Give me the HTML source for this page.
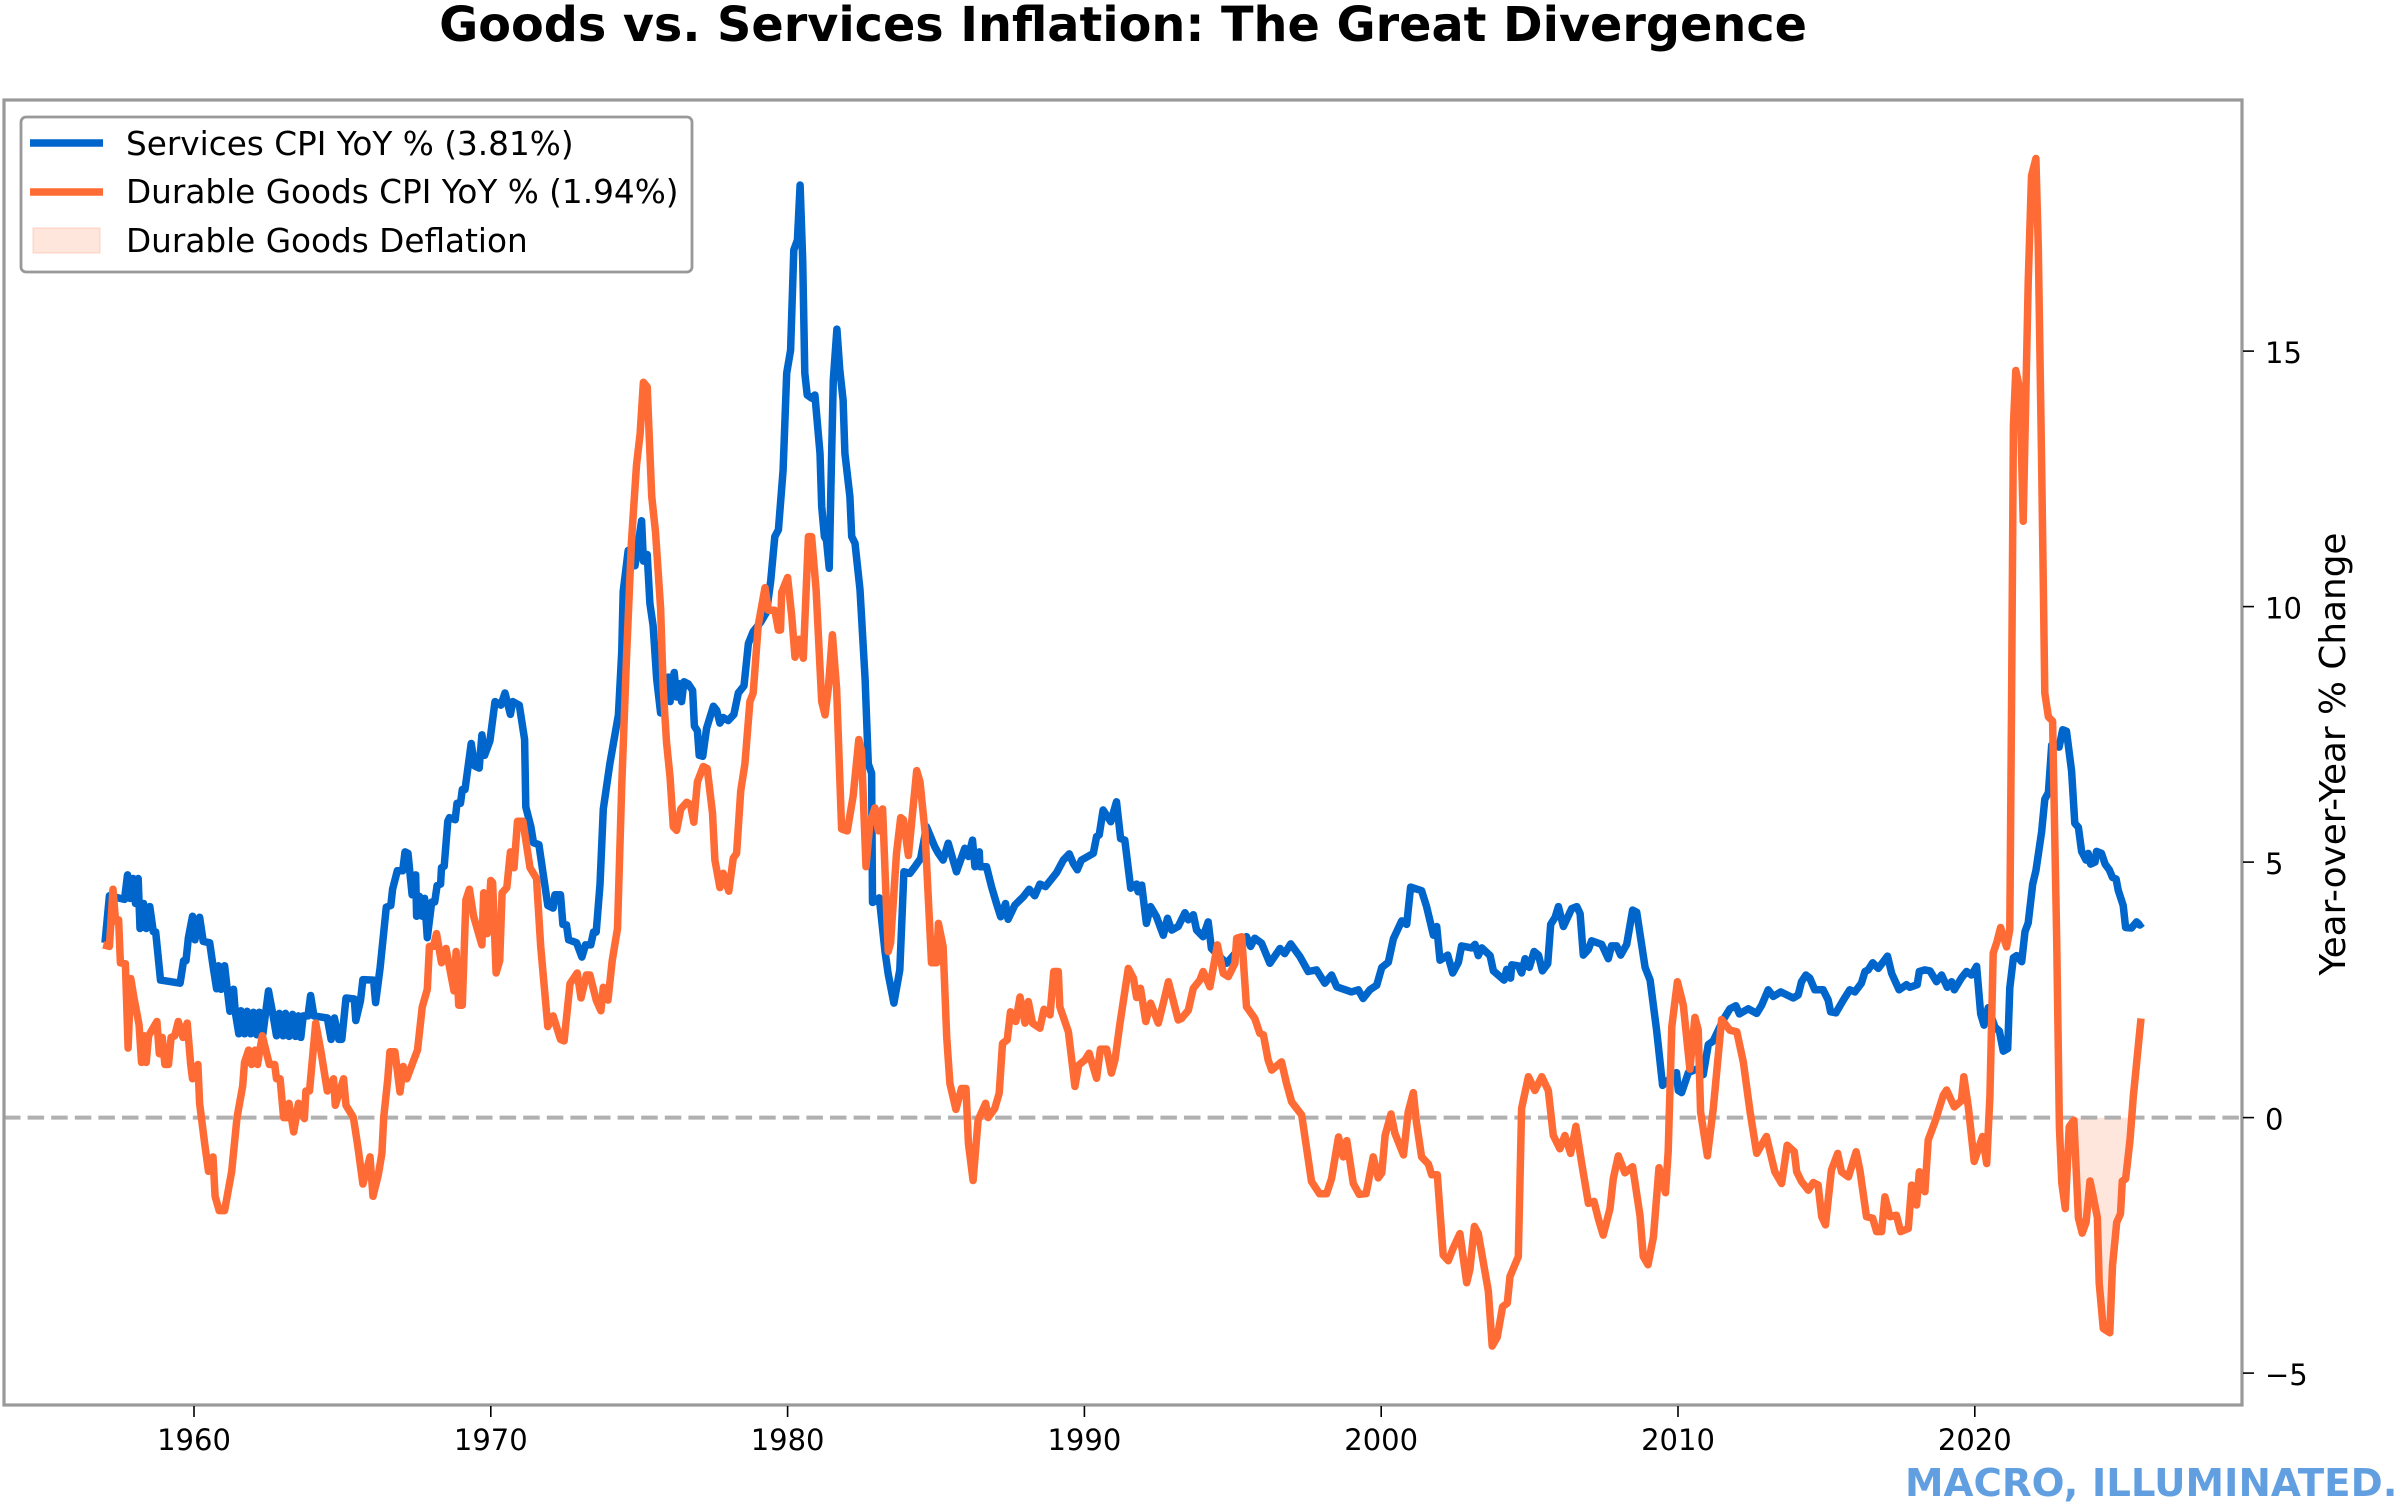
<!DOCTYPE html>
<html lang="en">
<head>
<meta charset="utf-8">
<title>Goods vs. Services Inflation: The Great Divergence</title>
<style>
html,body{margin:0;padding:0;background:#fff;}
svg{display:block;}
text{font-family:"DejaVu Sans","Liberation Sans",sans-serif;fill:#000;}
</style>
</head>
<body>
<svg id="chart" xmlns="http://www.w3.org/2000/svg" width="2400" height="1507" viewBox="0 0 2400 1507">
  <defs><clipPath id="plot-clip"><rect x="4" y="100" width="2238" height="1305"/></clipPath></defs>
  <rect x="0" y="0" width="2400" height="1507" fill="#fff"/>
  <text x="1123" y="41" text-anchor="middle" font-size="47.7" font-weight="700">Goods vs. Services Inflation: The Great Divergence</text>
  <g id="plot" clip-path="url(#plot-clip)"></g>
  <rect x="4" y="100" width="2238" height="1305" fill="none" stroke="#999" stroke-width="3.2"/>
  <g id="xaxis"></g>
  <g id="yaxis"></g>
  <text transform="translate(2345 754) rotate(-90)" text-anchor="middle" font-size="35.8">Year-over-Year % Change</text>
  <g>
    <rect x="21" y="117" width="671" height="155" rx="5" ry="5" fill="#fff" fill-opacity="0.9" stroke="#999" stroke-width="2.8"/>
    <line x1="30" x2="103" y1="143" y2="143" stroke="#0066CC" stroke-width="7.5"/>
    <text x="126" y="155" font-size="32.7">Services CPI YoY % (3.81%)</text>
    <line x1="30" x2="103" y1="192" y2="192" stroke="#FF6B35" stroke-width="7.5"/>
    <text x="126" y="203" font-size="32.7">Durable Goods CPI YoY % (1.94%)</text>
    <rect x="33" y="228" width="67" height="25" fill="#FF6B35" fill-opacity="0.17" stroke="#FF6B35" stroke-opacity="0.17" stroke-width="1.5"/>
    <text x="126" y="252" font-size="32.7">Durable Goods Deflation</text>
  </g>
  <text x="1905" y="1496" font-size="38.7" font-weight="700" style="fill:#619fe0">MACRO, ILLUMINATED.</text>
</svg>
<script>
const xTickYears = [1960, 1970, 1980, 1990, 2000, 2010, 2020];
const yTickValues = [-5, 0, 5, 10, 15];
const yTickLabels = ["\u22125", "0", "5", "10", "15"];
const zeroLineValue = [0];
const deflationWindow = [2023.3, 2025.3];

const servicesYears = [1957.00,1957.15,1957.66,1957.76,1957.84,1957.94,1958.03,1958.12,1958.18,1958.30,1958.39,1958.51,1958.63,1958.71,1958.87,1959.53,1959.65,1959.73,1959.81,1959.95,1960.03,1960.19,1960.31,1960.53,1960.64,1960.76,1960.83,1960.91,1961.03,1961.12,1961.21,1961.33,1961.39,1961.51,1961.58,1961.70,1961.79,1961.91,1962.00,1962.12,1962.20,1962.32,1962.51,1962.66,1962.78,1962.87,1963.00,1963.08,1963.20,1963.32,1963.42,1963.52,1963.60,1963.68,1963.84,1963.93,1964.04,1964.49,1964.62,1964.73,1964.88,1964.98,1965.12,1965.40,1965.45,1965.61,1965.69,1966.05,1966.12,1966.27,1966.48,1966.63,1966.69,1966.85,1967.03,1967.11,1967.21,1967.35,1967.47,1967.50,1967.59,1967.69,1967.77,1967.86,1968.01,1968.11,1968.19,1968.31,1968.34,1968.43,1968.55,1968.61,1968.80,1968.86,1968.98,1969.04,1969.13,1969.34,1969.46,1969.61,1969.70,1969.79,1969.97,1970.14,1970.34,1970.48,1970.66,1970.74,1970.96,1971.14,1971.18,1971.35,1971.44,1971.62,1971.92,1972.10,1972.16,1972.35,1972.43,1972.55,1972.62,1972.89,1973.07,1973.19,1973.37,1973.46,1973.55,1973.68,1973.79,1974.01,1974.30,1974.41,1974.46,1974.63,1974.86,1975.08,1975.14,1975.27,1975.36,1975.47,1975.59,1975.72,1975.98,1976.04,1976.18,1976.26,1976.35,1976.43,1976.51,1976.65,1976.80,1976.86,1976.96,1977.02,1977.14,1977.27,1977.50,1977.61,1977.72,1977.83,1978.00,1978.19,1978.34,1978.53,1978.68,1978.84,1979.10,1979.29,1979.43,1979.57,1979.69,1979.85,1979.97,1980.10,1980.21,1980.33,1980.42,1980.51,1980.58,1980.66,1980.81,1980.92,1981.09,1981.15,1981.24,1981.31,1981.40,1981.48,1981.54,1981.66,1981.76,1981.87,1981.93,1982.10,1982.16,1982.27,1982.44,1982.61,1982.72,1982.83,1982.86,1983.09,1983.28,1983.39,1983.58,1983.78,1983.92,1984.12,1984.29,1984.48,1984.68,1984.96,1985.08,1985.24,1985.41,1985.69,1985.97,1986.09,1986.23,1986.31,1986.46,1986.48,1986.70,1986.87,1987.04,1987.18,1987.34,1987.43,1987.66,1987.94,1988.14,1988.33,1988.50,1988.69,1989.06,1989.29,1989.49,1989.62,1989.76,1989.90,1990.30,1990.41,1990.50,1990.63,1990.89,1991.08,1991.22,1991.36,1991.56,1991.76,1991.81,1991.93,1992.09,1992.23,1992.43,1992.66,1992.80,1992.94,1993.16,1993.39,1993.50,1993.67,1993.78,1994.00,1994.17,1994.28,1994.79,1995.18,1995.46,1995.60,1995.74,1995.97,1996.25,1996.59,1996.75,1996.95,1997.26,1997.54,1997.82,1998.10,1998.33,1998.50,1999.00,1999.23,1999.39,1999.62,1999.85,2000.02,2000.24,2000.41,2000.69,2000.86,2000.99,2001.36,2001.53,2001.76,2001.87,2001.98,2002.24,2002.41,2002.60,2002.71,2003.05,2003.16,2003.27,2003.39,2003.67,2003.78,2004.14,2004.23,2004.36,2004.40,2004.62,2004.73,2004.85,2004.99,2005.15,2005.30,2005.43,2005.61,2005.71,2005.86,2005.97,2006.14,2006.42,2006.59,2006.70,2006.81,2006.98,2007.09,2007.43,2007.65,2007.76,2007.93,2008.07,2008.27,2008.47,2008.61,2008.89,2009.06,2009.28,2009.48,2009.95,2010.01,2010.12,2010.35,2010.63,2010.85,2011.02,2011.19,2011.53,2011.75,2011.95,2012.07,2012.37,2012.65,2012.82,2013.04,2013.21,2013.46,2013.88,2014.05,2014.16,2014.31,2014.44,2014.61,2014.89,2015.06,2015.14,2015.32,2015.57,2015.79,2015.96,2016.18,2016.30,2016.41,2016.56,2016.75,2017.06,2017.20,2017.45,2017.70,2017.81,2018.06,2018.13,2018.32,2018.49,2018.71,2018.88,2019.07,2019.22,2019.31,2019.55,2019.72,2019.89,2020.06,2020.20,2020.31,2020.45,2020.68,2020.83,2020.96,2021.11,2021.18,2021.30,2021.41,2021.58,2021.69,2021.80,2021.95,2022.06,2022.25,2022.36,2022.48,2022.59,2022.84,2022.96,2023.09,2023.26,2023.37,2023.49,2023.60,2023.75,2023.82,2023.90,2024.05,2024.10,2024.27,2024.39,2024.53,2024.64,2024.76,2024.83,2025.00,2025.08,2025.28,2025.45,2025.56,2025.65];
const servicesValues = [3.42,4.34,4.27,4.75,4.29,4.68,4.19,4.68,3.70,4.19,3.70,4.13,3.64,3.63,2.69,2.63,3.07,3.07,3.52,3.94,3.48,3.92,3.45,3.42,2.97,2.52,2.97,2.51,2.97,2.52,2.08,2.51,2.06,1.64,2.09,1.64,2.08,1.64,2.06,1.62,2.06,1.64,2.48,2.02,1.60,2.04,1.60,2.04,1.59,2.02,1.59,1.99,1.57,1.99,1.99,2.39,1.99,1.95,1.53,1.95,1.53,1.53,2.34,2.32,1.90,2.29,2.70,2.69,2.25,2.93,4.12,4.15,4.47,4.83,4.83,5.20,5.17,4.36,4.75,3.94,4.33,3.94,4.29,3.52,4.22,4.22,4.54,4.57,4.89,4.92,5.80,5.87,5.83,6.15,6.15,6.42,6.42,7.32,6.88,6.84,7.49,7.09,7.37,8.14,8.07,8.31,7.89,8.14,8.07,7.40,6.08,5.69,5.38,5.34,4.15,4.10,4.36,4.36,3.78,3.77,3.48,3.42,3.14,3.38,3.38,3.63,3.63,4.56,6.04,6.92,7.88,9.10,10.30,11.10,10.80,11.68,10.89,11.02,10.06,9.63,8.58,7.92,8.62,8.14,8.71,8.23,8.49,8.14,8.53,8.49,8.36,7.66,7.57,7.09,7.07,7.62,8.05,7.97,7.72,7.83,7.77,7.89,8.31,8.45,9.28,9.51,9.70,9.89,10.50,11.37,11.50,12.67,14.57,15.02,16.98,17.17,18.25,16.78,14.57,14.14,14.08,14.14,13.00,11.96,11.37,11.30,10.75,12.87,14.43,15.43,14.63,14.04,13.00,12.15,11.37,11.24,10.33,8.58,6.92,6.74,4.21,4.30,3.25,2.81,2.24,2.89,4.81,4.78,4.91,5.07,5.69,5.30,5.17,5.04,5.37,4.81,5.27,5.11,5.43,4.91,5.20,4.91,4.91,4.52,4.19,3.93,4.19,3.88,4.16,4.32,4.47,4.34,4.57,4.52,4.79,5.04,5.16,4.98,4.85,5.04,5.17,5.50,5.53,6.02,5.79,6.18,5.46,5.43,4.49,4.57,4.42,4.55,3.80,4.13,3.93,3.57,3.90,3.67,3.74,4.01,3.87,3.97,3.67,3.54,3.83,3.31,3.02,3.28,3.54,3.35,3.51,3.41,3.02,3.31,3.21,3.40,3.15,2.86,2.89,2.63,2.79,2.56,2.46,2.50,2.33,2.50,2.59,2.94,3.04,3.50,3.85,3.78,4.51,4.44,4.13,3.57,3.74,3.08,3.18,2.83,3.04,3.36,3.32,3.39,3.17,3.32,3.17,2.87,2.69,2.90,2.73,2.99,2.97,2.83,3.11,2.94,3.25,3.18,2.87,3.01,3.78,3.92,4.13,3.74,4.09,4.13,3.99,3.18,3.29,3.46,3.39,3.11,3.36,3.36,3.18,3.39,4.06,4.02,2.94,2.69,1.71,0.63,0.88,0.53,0.49,0.88,0.95,0.84,1.43,1.50,1.92,2.13,2.19,2.03,2.13,2.04,2.20,2.50,2.37,2.46,2.34,2.40,2.66,2.79,2.73,2.50,2.50,2.30,2.07,2.05,2.30,2.50,2.46,2.63,2.86,2.89,3.03,2.92,3.16,2.82,2.50,2.60,2.55,2.60,2.86,2.89,2.87,2.66,2.79,2.55,2.66,2.50,2.73,2.86,2.79,2.96,2.03,1.81,2.15,1.77,1.69,1.30,1.35,2.54,3.13,3.17,3.05,3.64,3.81,4.57,4.83,5.59,6.23,6.36,7.29,7.25,7.59,7.56,6.78,5.76,5.68,5.21,5.04,5.17,4.96,5.00,5.21,5.17,4.96,4.85,4.70,4.67,4.45,4.15,3.72,3.71,3.83,3.77,3.81];

const goodsYears = [1956.94,1957.15,1957.27,1957.36,1957.46,1957.52,1957.69,1957.78,1957.87,1957.97,1958.15,1958.23,1958.33,1958.39,1958.47,1958.75,1958.83,1958.93,1959.02,1959.14,1959.23,1959.35,1959.47,1959.63,1959.77,1959.89,1959.95,1960.13,1960.19,1960.37,1960.49,1960.64,1960.71,1960.85,1961.03,1961.27,1961.45,1961.64,1961.70,1961.84,1961.94,1962.06,1962.14,1962.30,1962.54,1962.72,1962.78,1962.90,1963.02,1963.14,1963.20,1963.36,1963.52,1963.72,1963.77,1963.89,1964.10,1964.28,1964.49,1964.70,1964.76,1965.04,1965.12,1965.37,1965.52,1965.69,1965.93,1966.03,1966.21,1966.33,1966.39,1966.53,1966.60,1966.77,1966.94,1967.05,1967.17,1967.35,1967.53,1967.69,1967.86,1967.93,1968.07,1968.17,1968.34,1968.49,1968.76,1968.83,1968.92,1969.04,1969.16,1969.28,1969.42,1969.70,1969.76,1969.88,1970.00,1970.06,1970.18,1970.30,1970.38,1970.54,1970.66,1970.78,1970.90,1971.08,1971.32,1971.54,1971.68,1971.92,1972.10,1972.35,1972.47,1972.67,1972.91,1973.04,1973.22,1973.34,1973.55,1973.71,1973.79,1973.95,1974.09,1974.27,1974.41,1974.58,1974.74,1974.91,1975.03,1975.14,1975.27,1975.42,1975.55,1975.72,1975.81,1975.92,1976.04,1976.15,1976.26,1976.40,1976.60,1976.73,1976.84,1976.96,1977.16,1977.29,1977.47,1977.55,1977.72,1977.83,1978.02,1978.17,1978.28,1978.42,1978.56,1978.73,1978.84,1979.01,1979.24,1979.35,1979.57,1979.69,1979.76,1979.80,1980.00,1980.14,1980.25,1980.39,1980.53,1980.70,1980.81,1980.96,1981.15,1981.26,1981.37,1981.51,1981.65,1981.82,1982.01,1982.21,1982.40,1982.49,1982.64,1982.77,1982.94,1983.06,1983.20,1983.39,1983.47,1983.67,1983.81,1983.90,1984.07,1984.35,1984.46,1984.63,1984.85,1985.02,1985.08,1985.24,1985.36,1985.47,1985.67,1985.86,1986.01,1986.09,1986.25,1986.42,1986.67,1986.76,1986.98,1987.13,1987.24,1987.40,1987.51,1987.69,1987.83,1988.00,1988.11,1988.25,1988.50,1988.64,1988.84,1988.97,1989.12,1989.17,1989.46,1989.68,1989.81,1990.02,1990.16,1990.41,1990.54,1990.75,1990.91,1991.03,1991.20,1991.48,1991.65,1991.76,1991.89,1992.07,1992.23,1992.49,1992.66,1992.83,1993.16,1993.27,1993.50,1993.67,1993.89,1994.00,1994.23,1994.48,1994.68,1994.85,1995.07,1995.13,1995.30,1995.46,1995.74,1995.91,1996.03,1996.19,1996.31,1996.64,1996.81,1996.98,1997.32,1997.65,1997.92,1998.16,1998.33,1998.56,1998.72,1998.84,1999.06,1999.26,1999.49,1999.73,1999.90,2000.02,2000.13,2000.33,2000.46,2000.75,2000.91,2001.08,2001.19,2001.36,2001.59,2001.70,2001.89,2002.09,2002.26,2002.43,2002.65,2002.88,2002.99,2003.14,2003.27,2003.44,2003.61,2003.74,2003.91,2004.09,2004.25,2004.34,2004.62,2004.73,2004.96,2005.18,2005.41,2005.63,2005.80,2006.02,2006.19,2006.38,2006.56,2006.75,2006.98,2007.17,2007.32,2007.48,2007.71,2007.82,2007.99,2008.21,2008.47,2008.72,2008.83,2008.99,2009.17,2009.36,2009.58,2009.67,2009.79,2009.98,2010.18,2010.40,2010.57,2010.68,2010.76,2010.99,2011.19,2011.47,2011.75,2011.98,2012.20,2012.43,2012.65,2012.98,2013.26,2013.49,2013.68,2013.92,2014.00,2014.16,2014.39,2014.56,2014.72,2014.84,2014.97,2015.17,2015.38,2015.51,2015.74,2016.00,2016.13,2016.35,2016.56,2016.69,2016.86,2016.97,2017.14,2017.36,2017.50,2017.76,2017.87,2018.04,2018.13,2018.32,2018.43,2018.66,2018.94,2019.05,2019.31,2019.55,2019.63,2019.78,2019.98,2020.26,2020.40,2020.51,2020.62,2020.74,2020.87,2021.07,2021.18,2021.24,2021.30,2021.38,2021.52,2021.63,2021.80,2021.91,2022.06,2022.14,2022.25,2022.36,2022.48,2022.62,2022.76,2022.85,2022.93,2023.05,2023.18,2023.34,2023.49,2023.62,2023.75,2023.88,2023.99,2024.13,2024.19,2024.33,2024.55,2024.64,2024.78,2024.91,2024.97,2025.08,2025.23,2025.34,2025.60];
const goodsValues = [3.38,3.35,4.47,3.84,3.87,3.03,3.01,1.36,2.72,2.37,1.81,1.08,1.60,1.08,1.60,1.88,1.25,1.57,1.04,1.04,1.57,1.60,1.88,1.57,1.85,1.04,0.76,1.04,0.28,-0.56,-1.05,-0.77,-1.54,-1.82,-1.82,-1.05,0.00,0.62,1.08,1.32,1.04,1.32,1.04,1.60,1.04,1.04,0.76,0.76,0.00,0.00,0.28,-0.28,0.28,-0.02,0.52,0.52,1.85,1.29,0.52,0.76,0.24,0.76,0.24,0.00,-0.56,-1.30,-0.77,-1.54,-1.12,-0.70,0.00,0.76,1.29,1.29,0.50,1.00,0.76,1.04,1.32,2.16,2.51,3.35,3.35,3.60,3.03,3.31,2.48,3.25,2.20,2.20,4.26,4.47,3.94,3.38,4.40,3.60,4.64,4.60,2.83,3.07,4.40,4.50,5.20,4.89,5.80,5.80,4.89,4.68,3.35,1.78,1.99,1.53,1.50,2.62,2.83,2.34,2.79,2.79,2.30,2.09,2.55,2.30,3.07,3.70,6.48,9.10,11.29,12.77,13.38,14.39,14.30,12.16,11.46,9.97,8.40,7.35,6.65,5.69,5.62,6.04,6.17,6.13,5.78,6.57,6.87,6.83,5.96,5.04,4.50,4.78,4.43,5.08,5.17,6.39,6.92,8.14,8.31,9.63,10.37,9.93,9.93,9.54,9.54,10.28,10.57,9.80,9.01,9.36,8.99,11.37,11.37,10.33,8.14,7.88,8.40,9.45,8.40,5.65,5.61,6.30,7.40,7.18,4.91,5.74,6.06,5.61,6.04,3.25,3.42,5.17,5.87,5.83,5.13,6.79,6.57,5.60,3.03,3.03,3.80,3.35,1.58,0.67,0.16,0.57,0.57,-0.50,-1.23,-0.05,0.28,0.00,0.18,0.48,1.45,1.52,2.07,1.88,2.36,1.85,2.27,1.85,1.75,2.12,2.01,2.86,2.86,2.17,1.68,0.61,1.03,1.13,1.26,0.77,1.34,1.34,0.87,1.13,1.85,2.92,2.73,2.35,2.53,1.88,2.24,1.85,2.24,2.66,1.91,1.94,2.10,2.53,2.69,2.86,2.56,3.38,2.82,2.76,3.02,3.51,3.54,2.17,1.94,1.65,1.62,1.13,0.93,1.09,0.67,0.31,0.05,-1.25,-1.49,-1.49,-1.19,-0.38,-0.77,-0.45,-1.29,-1.50,-1.49,-0.77,-1.18,-1.08,-0.35,0.07,-0.31,-0.73,0.11,0.49,-0.10,-0.77,-0.91,-1.12,-1.12,-2.69,-2.80,-2.55,-2.27,-3.23,-2.97,-2.13,-2.27,-2.83,-3.39,-4.47,-4.30,-3.70,-3.63,-3.11,-2.72,0.18,0.80,0.53,0.80,0.53,-0.35,-0.61,-0.35,-0.70,-0.17,-0.87,-1.68,-1.64,-1.99,-2.30,-1.78,-1.19,-0.75,-1.08,-0.96,-1.92,-2.72,-2.88,-2.34,-0.98,-1.47,-0.66,1.78,2.66,2.20,0.95,1.96,1.72,0.11,-0.75,0.18,1.92,1.71,1.68,1.09,0.11,-0.70,-0.37,-1.06,-1.29,-0.54,-0.67,-1.06,-1.25,-1.42,-1.27,-1.32,-1.94,-2.10,-1.03,-0.70,-1.06,-1.16,-0.67,-1.03,-1.94,-1.97,-2.23,-2.23,-1.55,-1.94,-1.91,-2.23,-2.17,-1.32,-1.71,-1.06,-1.45,-0.44,-0.08,0.44,0.54,0.21,0.33,0.80,0.21,-0.86,-0.37,-0.90,0.41,3.22,3.43,3.72,3.34,3.68,8.23,13.54,14.62,14.24,11.67,16.34,18.43,18.77,17.03,12.84,8.31,7.84,7.76,3.47,-0.18,-1.28,-1.78,-0.18,-0.05,-1.96,-2.26,-2.05,-1.24,-1.54,-1.96,-3.24,-4.13,-4.21,-2.90,-2.05,-1.88,-1.24,-1.20,-0.44,0.41,1.94];

const SVG_NS = "http://www.w3.org/2000/svg";
const plotLeft = 4, plotRight = 2242, plotTop = 100, plotBottom = 1405;
function xScale(year) { return 194 + (year - 1960) * 29.68; }
function yScale(value) { return 1117.6 - value * 51.1; }
function make(tag, attrs) {
  const el = document.createElementNS(SVG_NS, tag);
  for (const k in attrs) el.setAttribute(k, attrs[k]);
  return el;
}
function linePath(years, values) {
  return years.map((y, i) => (i ? "L" : "M") + xScale(y).toFixed(1) + " " + yScale(values[i]).toFixed(1)).join("");
}
function deflationPath(years, values, win) {
  const pts = [];
  for (let i = 1; i < years.length; i++) {
    const y0 = years[i - 1], y1 = years[i], v0 = values[i - 1], v1 = values[i];
    if (y1 < win[0] || y0 > win[1]) continue;
    if (v0 * v1 < 0) pts.push([y0 + (y1 - y0) * (0 - v0) / (v1 - v0), 0]);
    if (y1 >= win[0] && y1 <= win[1]) pts.push([y1, Math.min(v1, 0)]);
  }
  let d = "M" + xScale(pts[0][0]).toFixed(1) + " " + yScale(0).toFixed(1);
  pts.forEach(p => { d += "L" + xScale(p[0]).toFixed(1) + " " + yScale(p[1]).toFixed(1); });
  d += "L" + xScale(pts[pts.length - 1][0]).toFixed(1) + " " + yScale(0).toFixed(1) + "Z";
  return d;
}

const plot = document.getElementById("plot");

const fillEl = make("path", { d: deflationPath(goodsYears, goodsValues, deflationWindow), fill: "#FF6B35", "fill-opacity": "0.17", stroke: "none" });


plot.appendChild(fillEl);

const zeroEl = make("line", { x1: plotLeft, x2: plotRight, y1: yScale(zeroLineValue[0]), y2: yScale(zeroLineValue[0]), stroke: "#b0b0b0", "stroke-width": "4", "stroke-dasharray": "16.5 7.1" });


plot.appendChild(zeroEl);

const servicesEl = make("path", { d: linePath(servicesYears, servicesValues), fill: "none", stroke: "#0066CC", "stroke-width": "7.5", "stroke-linejoin": "round", "stroke-linecap": "butt" });


plot.appendChild(servicesEl);

const goodsEl = make("path", { d: linePath(goodsYears, goodsValues), fill: "none", stroke: "#FF6B35", "stroke-width": "7.5", "stroke-linejoin": "round", "stroke-linecap": "butt" });


plot.appendChild(goodsEl);

const xAxis = document.getElementById("xaxis");
xTickYears.forEach(year => {
  const x = xScale(year);
  const tick = make("line", { x1: x, x2: x, y1: plotBottom + 1, y2: plotBottom + 12, stroke: "#000", "stroke-width": "1.6" });
  
  
  xAxis.appendChild(tick);
  const label = make("text", { x: x, y: 1450, "text-anchor": "middle", "font-size": "29" });
  
  
  label.textContent = String(year);
  xAxis.appendChild(label);
});

const yAxis = document.getElementById("yaxis");
yTickValues.forEach((value, i) => {
  const y = yScale(value);
  const tick = make("line", { x1: plotRight + 1, x2: plotRight + 12, y1: y, y2: y, stroke: "#000", "stroke-width": "1.6" });
  
  
  yAxis.appendChild(tick);
  const label = make("text", { x: 2265, y: y + 12, "font-size": "29" });
  
  
  label.textContent = yTickLabels[i];
  yAxis.appendChild(label);
});
</script>
</body>
</html>
